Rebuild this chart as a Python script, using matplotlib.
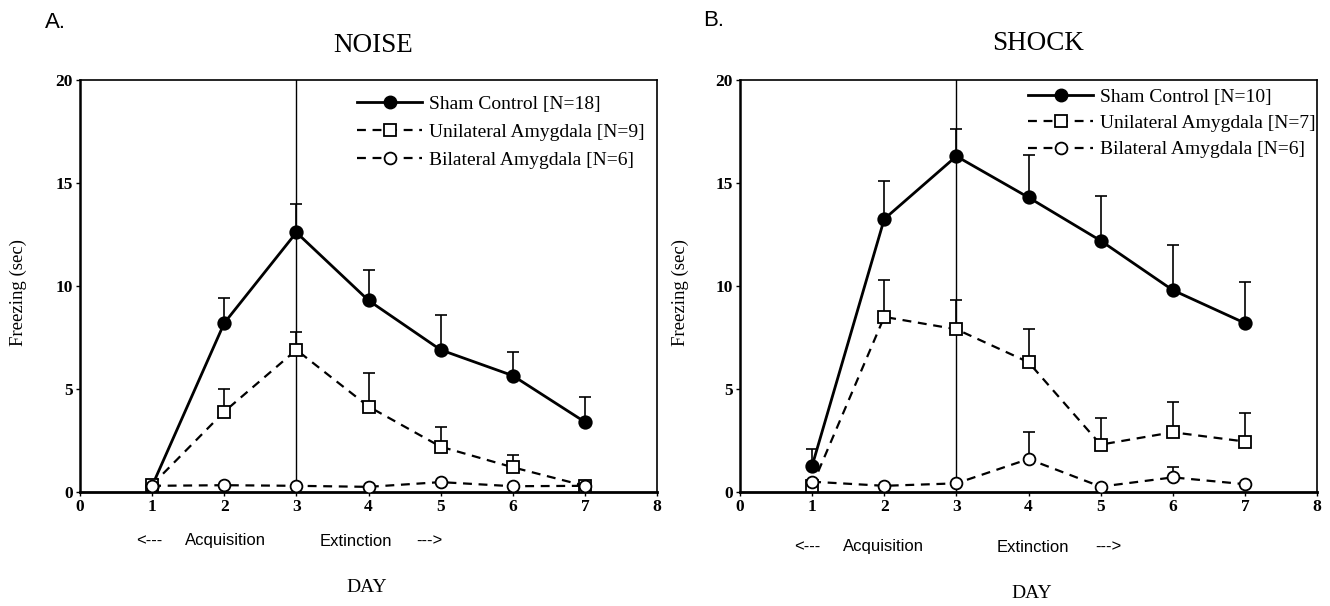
import numpy as np
import matplotlib
matplotlib.use("Agg")
import matplotlib.pyplot as plt
from matplotlib.lines import Line2D

days = [1, 2, 3, 4, 5, 6, 7]

# Panel A: NOISE
noise_sham = [0.3, 8.2, 12.6, 9.3, 6.9, 5.65, 3.4]
noise_sham_err = [0.0, 1.2, 1.4, 1.5, 1.7, 1.15, 1.2]
noise_uni = [0.35, 3.9, 6.9, 4.15, 2.2, 1.2, 0.3]
noise_uni_err = [0.0, 1.1, 0.85, 1.65, 0.95, 0.6, 0.0]
noise_bi = [0.3, 0.33, 0.3, 0.25, 0.48, 0.28, 0.3]
noise_bi_err = [0, 0, 0, 0, 0, 0, 0]

# Panel B: SHOCK
shock_sham = [1.27, 13.25, 16.3, 14.3, 12.2, 9.8, 8.2]
shock_sham_err = [0.83, 1.85, 1.3, 2.05, 2.15, 2.2, 2.0]
shock_uni = [0.3, 8.5, 7.9, 6.3, 2.3, 2.9, 2.45]
shock_uni_err = [0.0, 1.8, 1.4, 1.6, 1.3, 1.45, 1.4]
shock_bi = [0.5, 0.3, 0.42, 1.6, 0.26, 0.71, 0.38]
shock_bi_err = [0, 0, 0, 1.3, 0, 0.5, 0]

noise_labels = ["Sham Control [N=18]", "Unilateral Amygdala [N=9]", "Bilateral Amygdala [N=6]"]
shock_labels = ["Sham Control [N=10]", "Unilateral Amygdala [N=7]", "Bilateral Amygdala [N=6]"]

xticks = [0, 1, 2, 3, 4, 5, 6, 7, 8]
yticks = [0, 5, 10, 15, 20]

serif = "Liberation Serif"
sans = "Liberation Sans"
W, H = 1330, 606

fig = plt.figure(figsize=(13.3, 6.06), dpi=100)
axA = fig.add_axes([80 / W, 114 / H, 577 / W, 412 / H])
axB = fig.add_axes([740 / W, 114 / H, 577 / W, 412 / H])

DASH = (0, (4, 3))


def series(ax, y, err, ls, lw, marker, ms, mfc, z):
    x = np.array(days, dtype=float)
    y = np.array(y, dtype=float)
    e = np.array(err, dtype=float)
    m = e > 0
    if m.any():
        ax.errorbar(x[m], y[m], yerr=[np.zeros(m.sum()), e[m]], fmt="none",
                    ecolor="black", elinewidth=1.2, capsize=4, capthick=1.2, zorder=z - 0.5)
    ax.plot(x, y, color="black", lw=lw, ls=ls, marker=marker, ms=ms, mfc=mfc,
            mec="black", mew=1.3, zorder=z)


def draw(ax, sham, sham_e, uni, uni_e, bi, bi_e, labels, leg_xy, leg_sp):
    series(ax, sham, sham_e, "-", 2.0, "o", 9, "black", 3)
    series(ax, uni, uni_e, DASH, 1.6, "s", 8.5, "white", 4)
    series(ax, bi, bi_e, DASH, 1.6, "o", 8.5, "white", 5)
    ax.plot([3, 3], [0, 20], color="black", lw=1.0, zorder=2)
    ax.set_xlim(0, 8)
    ax.set_ylim(0, 20)
    ax.set_xticks(xticks)
    ax.set_yticks(yticks)
    ax.set_xticklabels([str(t) for t in xticks], fontfamily=serif, fontsize=12.5, fontweight="bold")
    ax.set_yticklabels([str(t) for t in yticks], fontfamily=serif, fontsize=12.5, fontweight="bold")
    ax.tick_params(direction="out", length=3, width=1, pad=2)
    for s in ax.spines.values():
        s.set_linewidth(1.2)
    ax.spines["bottom"].set_linewidth(2.0)
    ax.spines["left"].set_linewidth(1.8)
    handles = [
        Line2D([], [], color="black", lw=2.0, marker="o", ms=9, mfc="black", mec="black"),
        Line2D([], [], color="black", lw=1.6, ls=DASH, marker="s", ms=8.5, mfc="white", mec="black", mew=1.3),
        Line2D([], [], color="black", lw=1.6, ls=DASH, marker="o", ms=8.5, mfc="white", mec="black", mew=1.3),
    ]
    ax.legend(handles, labels, loc="upper left", bbox_to_anchor=leg_xy, bbox_transform=fig.transFigure,
              frameon=False, prop={"family": serif, "size": 14}, handlelength=3.35,
              handletextpad=0.35, labelspacing=leg_sp, borderpad=0, borderaxespad=0)


draw(axA, noise_sham, noise_sham_err, noise_uni, noise_uni_err, noise_bi, noise_bi_err,
     noise_labels, (357 / W, 1 - 95 / H), 0.55)
draw(axB, shock_sham, shock_sham_err, shock_uni, shock_uni_err, shock_bi, shock_bi_err,
     shock_labels, (1028 / W, 1 - 88 / H), 0.45)

# Titles
fig.text(373 / W, 1 - 46 / H, "NOISE", fontfamily=serif, fontsize=19.5, ha="center", va="center")
fig.text(1038 / W, 1 - 44 / H, "SHOCK", fontfamily=serif, fontsize=19.5, ha="center", va="center")

# Y labels
fig.text(18 / W, 1 - 292 / H, "Freezing (sec)", fontfamily=serif, fontsize=13.5, rotation=90,
         ha="center", va="center")
fig.text(680 / W, 1 - 292 / H, "Freezing (sec)", fontfamily=serif, fontsize=13.5, rotation=90,
         ha="center", va="center")

# Panel letters
fig.text(55 / W, 1 - 22 / H, "A.", fontfamily=sans, fontsize=16, va="center", ha="center")
fig.text(714 / W, 1 - 20 / H, "B.", fontfamily=sans, fontsize=16, va="center", ha="center")

# Phase annotations
for (x, t) in [(149, "<---"), (225, "Acquisition"), (356, "Extinction"), (429, "--->")]:
    fig.text(x / W, 1 - 541 / H, t, fontfamily=sans, fontsize=12, ha="center", va="center")
for (x, t) in [(807, "<---"), (883, "Acquisition"), (1033, "Extinction"), (1108, "--->")]:
    fig.text(x / W, 1 - 547 / H, t, fontfamily=sans, fontsize=12, ha="center", va="center")

fig.text(367 / W, 1 - 587 / H, "DAY", fontfamily=serif, fontsize=14, ha="center", va="center")
fig.text(1032 / W, 1 - 594 / H, "DAY", fontfamily=serif, fontsize=14, ha="center", va="center")

fig.savefig("out.png", dpi=100)
